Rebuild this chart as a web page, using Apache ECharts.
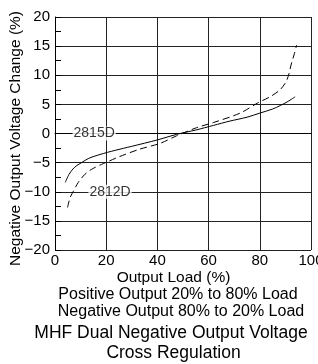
<!DOCTYPE html>
<html>
<head>
<meta charset="utf-8">
<script src="https://cdn.jsdelivr.net/npm/echarts@6/dist/echarts.min.js"></script>
<style>
  html, body { margin: 0; padding: 0; background: #fff; }
  #chart { width: 318px; height: 364px; }
</style>
</head>
<body>
<div id="chart"></div>
<script>
// 2815D (solid)
const load2815 = [4, 5.5, 7, 8.5, 10.4, 13, 17.6, 23.4, 30, 40, 47.5, 55, 62, 68, 75, 80, 85, 88, 91, 93.8];
const change2815 = [-8.4, -7.0, -6.1, -5.5, -5.0, -4.3, -3.6, -2.9, -2.2, -1.1, -0.15, 0.6, 1.4, 2.1, 2.8, 3.5, 4.2, 4.8, 5.5, 6.3];
// 2812D (dashed)
const load2812 = [4.9, 5.9, 7.2, 9.1, 11.7, 14.3, 18.2, 20.8, 25, 33, 41, 47.5, 55.3, 62, 72.3, 79.4, 84, 87.9, 90, 91.1, 92.4, 93.5, 94.4];
const change2812 = [-12.7, -11, -9.9, -8.4, -7.0, -6.15, -5.3, -4.8, -4.0, -2.7, -1.7, -0.4, 1.0, 1.9, 3.5, 5.3, 6.3, 7.5, 8.7, 9.8, 12.1, 13.7, 15.2];

// curve tags placed on the gridlines
const tagNames = ['2815D', '2812D'];
const tagLoad = [15.3, 21.5];
const tagChange = [0, -10];

const subLines = ['Positive Output 20% to 80% Load', 'Negative Output 80% to 20% Load'];
const titleLines = ['MHF Dual Negative Output Voltage', 'Cross Regulation'];

const FONT = '"Liberation Sans", Arial, sans-serif';
const chart = echarts.init(document.getElementById('chart'));

const zip = (xs, ys) => xs.map((x, i) => [x, ys[i]]);

function caption(text, x, y, size) {
  return {
    type: 'text', x: x, y: y,
    style: { text: text, font: size + 'px ' + FONT, fill: '#000', textAlign: 'center', textVerticalAlign: 'middle' }
  };
}

const option = {
  animation: false,
  grid: { left: 55, right: 7, top: 17, bottom: 114, containLabel: false, outerBoundsMode: 'none' },
  xAxis: {
    type: 'value',
    min: 0, max: 100, interval: 20,
    name: 'Output Load (%)',
    nameLocation: 'middle',
    nameGap: 20,
    nameMoveOverlap: false,
    nameTextStyle: { color: '#000', fontFamily: FONT, fontSize: 15.5, padding: [0, 19, 0, 0] },
    axisLine: { lineStyle: { color: '#000', width: 1 } },
    axisTick: { show: false },
    axisLabel: { color: '#000', fontFamily: FONT, fontSize: 15, margin: 3, hideOverlap: false },
    splitLine: { show: true, lineStyle: { color: '#222', width: 1 } }
  },
  yAxis: {
    type: 'value',
    min: -20, max: 20, interval: 5,
    name: 'Negative Output Voltage Change (%)',
    nameLocation: 'middle',
    nameGap: 31,
    nameMoveOverlap: false,
    nameTextStyle: { color: '#000', fontFamily: FONT, fontSize: 15.5, padding: [0, 10, 0, 0] },
    axisLine: { show: true, lineStyle: { color: '#000', width: 1 } },
    axisTick: { show: true, inside: true, length: 6, lineStyle: { color: '#000' } },
    minorTick: { show: true, splitNumber: 2, length: 6, lineStyle: { color: '#000', width: 1 } },
    axisLabel: {
      color: '#000', fontFamily: FONT, fontSize: 15, margin: 5,
      formatter: v => String(v).replace('-', '\u2212')
    },
    splitLine: { show: true, lineStyle: { color: '#222', width: 1 } }
  },
  series: [
    {
      name: '2815D',
      type: 'line',
      data: zip(load2815, change2815),
      smooth: 0.3,
      symbol: 'none',
      lineStyle: { color: '#000', width: 1 }
    },
    {
      name: '2812D',
      type: 'line',
      data: zip(load2812, change2812),
      smooth: 0.3,
      symbol: 'none',
      lineStyle: { color: '#000', width: 1, type: [7, 4] }
    },
    {
      name: 'tags',
      type: 'scatter',
      symbolSize: 0,
      data: tagNames.map((n, i) => ({ name: n, value: [tagLoad[i], tagChange[i]] })),
      label: {
        show: true,
        position: 'inside',
        formatter: p => p.name,
        color: '#000',
        fontFamily: FONT,
        fontSize: 14,
        backgroundColor: '#fff',
        padding: [0, 1]
      },
      z: 5
    }
  ],
  graphic: [
    caption(subLines[0], 178, 295, 16),
    caption(subLines[1], 181, 311.5, 16),
    caption(titleLines[0], 171, 333.5, 17.5),
    caption(titleLines[1], 173.5, 353, 17.5)
  ]
};

chart.setOption(option);
</script>
</body>
</html>
